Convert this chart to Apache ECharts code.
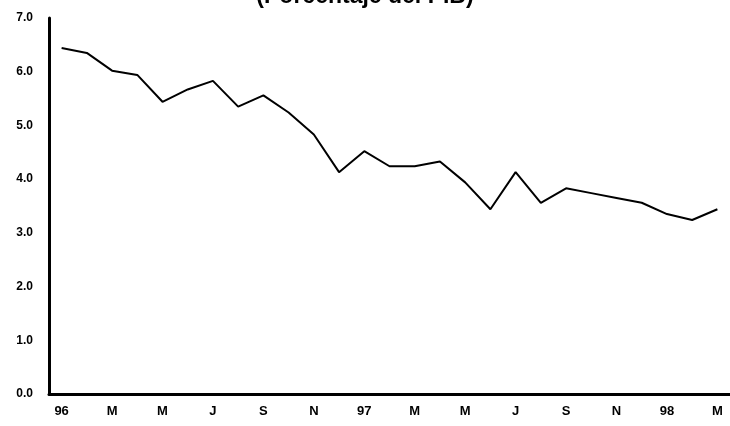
<!DOCTYPE html>
<html>
<head>
<meta charset="utf-8">
<script src="https://cdn.jsdelivr.net/npm/echarts@6/dist/echarts.min.js"></script>
<style>html,body{margin:0;padding:0;background:#fff}#c{width:730px;height:426px}</style>
</head>
<body>
<div id="c"></div>
<script>
const titleText = "(Porcentaje del PIB)";
const months = ["96","F","M","A","M","J","J","A","S","O","N","D",
                "97","F","M","A","M","J","J","A","S","O","N","D",
                "98","F","M"];
const values = [6.44,6.35,6.02,5.94,5.44,5.67,5.83,5.35,5.56,5.24,4.83,4.13,
                4.52,4.24,4.24,4.33,3.94,3.44,4.13,3.56,3.83,3.74,3.65,3.56,
                3.35,3.24,3.44];
const yTicks = { min: 0, max: 7, interval: 1 };

const chart = echarts.init(document.getElementById('c'), null, {renderer: 'canvas'});
chart.setOption({
  animation: false,
  backgroundColor: '#fff',
  title: {
    text: titleText, left: 'center', top: -20,
    textStyle: { fontFamily: 'Liberation Sans', fontWeight: 'bold', fontSize: 23, color: '#000' }
  },
  grid: { left: 49, right: -2, top: 18, bottom: 32, containLabel: false },
  xAxis: {
    type: 'category', data: months, boundaryGap: true,
    axisLine: { show: true, lineStyle: { color: '#000', width: 3 } },
    axisTick: { show: false },
    axisLabel: { interval: 1, margin: 11, color: '#000', fontFamily: 'Liberation Sans', fontWeight: 'bold', fontSize: 13 },
    splitLine: { show: false }
  },
  yAxis: {
    type: 'value', min: yTicks.min, max: yTicks.max, interval: yTicks.interval,
    axisLine: { show: true, lineStyle: { color: '#000', width: 3 } },
    axisTick: { show: false },
    axisLabel: { margin: 16, color: '#000', fontFamily: 'Liberation Sans', fontWeight: 'bold', fontSize: 12,
      formatter: v => v.toFixed(1) },
    splitLine: { show: false }
  },
  series: [{
    type: 'line', data: values, symbol: 'none',
    lineStyle: { color: '#000', width: 2 }
  }]
});
</script>
</body>
</html>
